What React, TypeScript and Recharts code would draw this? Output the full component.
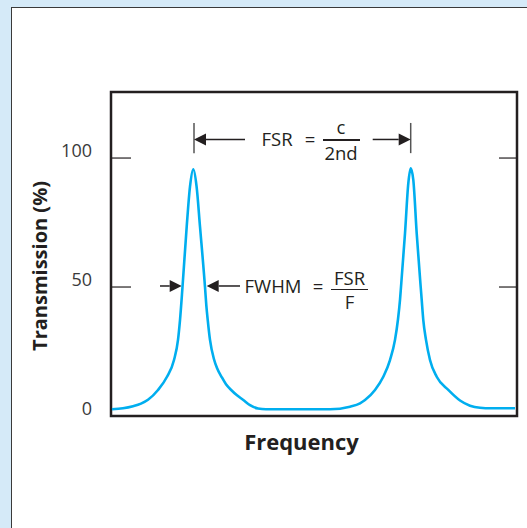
import React from 'react'
import { LineChart, Line, XAxis, YAxis, ReferenceArea, ReferenceLine } from 'recharts'

// frequency in arbitrary units (plot width = 406), transmission in %
const freq = [
  1, 12, 22, 30, 37, 47, 56, 63, 67, 69, 71.5, 75.7, 79, 82.3, 85.6, 89, 94, 95.3, 96.8, 99, 103,
  106, 110.7, 115, 120.7, 126, 132.3, 139, 147, 155, 189, 219, 239, 249, 254, 264, 272.3, 279, 284,
  287, 289, 290, 294, 297.3, 299.7, 302.3, 305.7, 309.7, 310.7, 312.3, 315, 319, 325.7, 337.3, 349,
  359, 369, 380, 404,
]
const transmission = [
  2.6, 3.0, 3.8, 4.8, 6.3, 10.1, 15.2, 21.7, 29.5, 37.2, 50, 73.4, 88.9, 95.6, 88.9, 73.4, 50, 43,
  37, 29.5, 22.0, 18.6, 15.1, 12.3, 9.9, 8.0, 6.2, 4.2, 2.9, 2.6, 2.6, 2.6, 3.6, 4.9, 6.2, 10.1,
  15.2, 21.7, 29.5, 37.5, 45, 50, 70.8, 90.2, 96.0, 91.5, 70.8, 50, 45, 37.2, 29.5, 21.7, 15.2,
  10.1, 6.0, 4.0, 3.2, 3.0, 3.0,
]
const yTicks = [0, 50, 100]
const peaks = [83, 299.7]

const data = freq.map((f, i) => ({ freq: f, t: transmission[i] }))

const INK = '#231f20'
const FONT = '"Open Sans", "Noto Sans", sans-serif'
const X_MAX = 406
const Y_MAX = 125.6

const Arrow = (props: any) => {
  const { x1, y1, x2, y2 } = props
  const dir = x2 > x1 ? 1 : -1
  const head = 12
  return (
    <g>
      <line x1={x1} y1={y1} x2={x2 - dir * head} y2={y2} stroke={INK} strokeWidth={1.5} />
      <polygon
        points={`${x2},${y2} ${x2 - dir * head},${y2 - 6} ${x2 - dir * head},${y2 + 6}`}
        fill={INK}
      />
    </g>
  )
}

const YTick = (props: any) => {
  const { x, y, payload } = props
  return (
    <text x={x} y={y - 6} textAnchor="end" dominantBaseline="middle" fontSize={18} fill="#3a3a3a" fontFamily={FONT}>
      {payload.value}
    </text>
  )
}

const Txt = ({ x, y, size = 18.5, weight = 400, rotate = 0, children }: any) => (
  <div
    style={{
      position: 'absolute',
      left: x,
      top: y,
      transform: `translate(-50%, -50%) rotate(${rotate}deg)`,
      fontSize: size,
      fontWeight: weight,
      lineHeight: 1,
      whiteSpace: 'nowrap',
      color: INK,
      fontFamily: FONT,
    }}
  >
    {children}
  </div>
)

const Bar = ({ x, y, w }: any) => (
  <div style={{ position: 'absolute', left: x, top: y, width: w, height: 1.5, background: INK }} />
)

export default function App() {
  return (
    <div
      style={{
        position: 'fixed',
        left: 0,
        top: 0,
        width: 527,
        height: 528,
        overflow: 'hidden',
        background: '#d5eaf8',
        fontFamily: FONT,
      }}
    >
      <div
        style={{
          position: 'absolute',
          left: 11,
          top: 7,
          width: 600,
          height: 600,
          background: '#fff',
          border: '1.5px solid #3a3a3a',
        }}
      />
      <div style={{ position: 'absolute', left: 0, top: 0 }}>
        <LineChart width={527} height={528} data={data} margin={{ top: 92, right: 10, left: 0, bottom: 112 }}>
          <XAxis dataKey="freq" type="number" domain={[0, X_MAX]} hide />
          <YAxis
            type="number"
            domain={[0, Y_MAX]}
            ticks={yTicks}
            width={111}
            axisLine={false}
            tickLine={false}
            tickSize={0}
            tickMargin={19}
            tick={<YTick />}
          />
          <ReferenceArea x1={0} x2={X_MAX} y1={0} y2={Y_MAX} fill="none" stroke={INK} strokeWidth={2.5} ifOverflow="visible" />
          {[50, 100].map((v) => (
            <ReferenceLine key={'l' + v} segment={[{ x: 0, y: v }, { x: 20, y: v }]} stroke={INK} strokeWidth={1.2} />
          ))}
          {[50, 100].map((v) => (
            <ReferenceLine key={'r' + v} segment={[{ x: 388, y: v }, { x: X_MAX, y: v }]} stroke={INK} strokeWidth={1.2} />
          ))}
          {/* FSR markers */}
          {peaks.map((p) => (
            <ReferenceLine key={'b' + p} segment={[{ x: p, y: 101.9 }, { x: p, y: 113.6 }]} stroke="#555" strokeWidth={1.5} />
          ))}
          <ReferenceLine segment={[{ x: 134, y: 107.2 }, { x: peaks[0], y: 107.2 }]} shape={Arrow} />
          <ReferenceLine segment={[{ x: 261.7, y: 107.2 }, { x: peaks[1], y: 107.2 }]} shape={Arrow} />
          {/* FWHM markers */}
          <ReferenceLine segment={[{ x: 49, y: 50.4 }, { x: 70.7, y: 50.4 }]} shape={Arrow} />
          <ReferenceLine segment={[{ x: 129, y: 50.4 }, { x: 95.7, y: 50.4 }]} shape={Arrow} />
          <Line
            type="monotone"
            dataKey="t"
            stroke="#00aeef"
            strokeWidth={2.6}
            dot={false}
            isAnimationActive={false}
          />
        </LineChart>
      </div>

      <Txt x={40} y={266} size={20} weight={700} rotate={-90}>Transmission (%)</Txt>
      <Txt x={301.5} y={441} size={22} weight={700}>Frequency</Txt>

      <Txt x={277} y={139}>FSR</Txt>
      <Txt x={310} y={139}>=</Txt>
      <Txt x={341} y={127}>c</Txt>
      <Bar x={323} y={139} w={37} />
      <Txt x={341} y={153}>2nd</Txt>

      <Txt x={273} y={286}>FWHM</Txt>
      <Txt x={318} y={286}>=</Txt>
      <Txt x={349.5} y={278}>FSR</Txt>
      <Bar x={331} y={288.5} w={37} />
      <Txt x={349.5} y={302}>F</Txt>
    </div>
  )
}
